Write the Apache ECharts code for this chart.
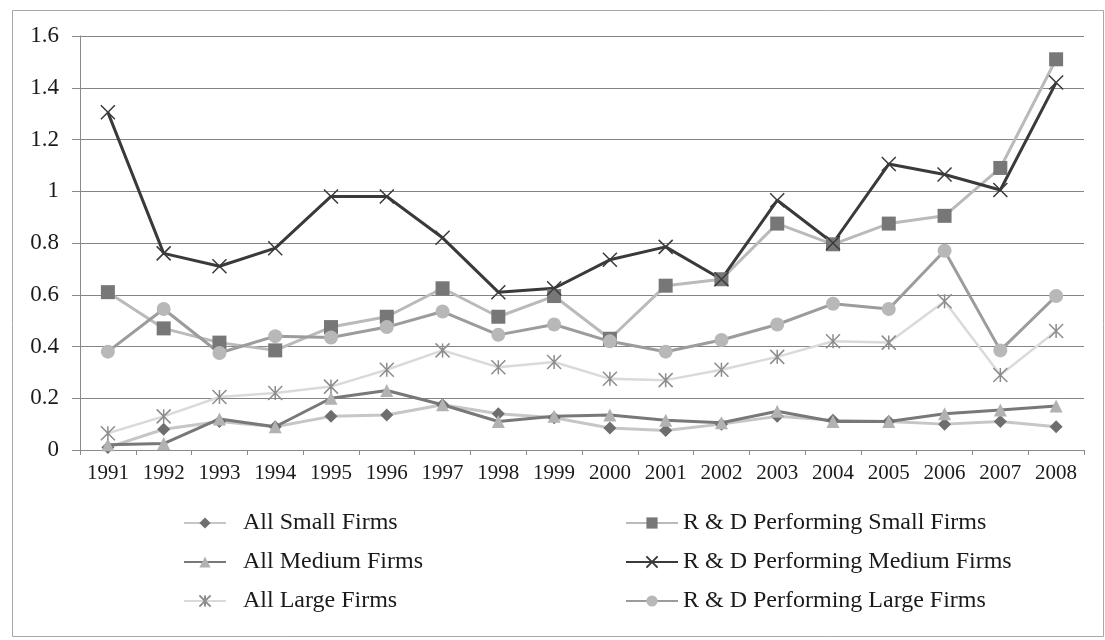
<!DOCTYPE html>
<html>
<head>
<meta charset="utf-8">
<script src="https://cdn.jsdelivr.net/npm/echarts@6/dist/echarts.min.js"></script>
<style>
html,body{margin:0;padding:0;background:#fff;}
#chart{width:1105px;height:640px;}
</style>
</head>
<body>
<div id="chart"></div>
<script>
var years = ['1991','1992','1993','1994','1995','1996','1997','1998','1999','2000','2001','2002','2003','2004','2005','2006','2007','2008'];
var allSmall  = [0.01, 0.08, 0.11, 0.09, 0.13, 0.135, 0.175, 0.14, 0.125, 0.085, 0.075, 0.10, 0.13, 0.115, 0.11, 0.10, 0.11, 0.09];
var allMedium = [0.02, 0.025, 0.12, 0.09, 0.20, 0.23, 0.175, 0.11, 0.13, 0.135, 0.115, 0.105, 0.15, 0.11, 0.11, 0.14, 0.155, 0.17];
var allLarge  = [0.065, 0.13, 0.205, 0.22, 0.245, 0.31, 0.385, 0.32, 0.34, 0.275, 0.27, 0.31, 0.36, 0.42, 0.415, 0.575, 0.29, 0.46];
var rdSmall   = [0.61, 0.47, 0.415, 0.385, 0.475, 0.515, 0.625, 0.515, 0.595, 0.43, 0.635, 0.66, 0.875, 0.795, 0.875, 0.905, 1.09, 1.51];
var rdMedium  = [1.305, 0.76, 0.71, 0.78, 0.98, 0.98, 0.82, 0.61, 0.625, 0.735, 0.785, 0.66, 0.965, 0.80, 1.105, 1.065, 1.005, 1.42];
var rdLarge   = [0.38, 0.545, 0.375, 0.44, 0.435, 0.475, 0.535, 0.445, 0.485, 0.42, 0.38, 0.425, 0.485, 0.565, 0.545, 0.77, 0.385, 0.595];
var names = ['All Small Firms','All Medium Firms','All Large Firms','R & D Performing Small Firms','R & D Performing Medium Firms','R & D Performing Large Firms'];

var serif = '"Liberation Serif","Times New Roman",serif';
var chart = echarts.init(document.getElementById('chart'));

function mk(name, data, lineColor, lineWidth, symbol, symbolSize, itemStyle) {
  return {
    name: name, type: 'line', data: data,
    symbol: symbol, symbolSize: symbolSize, showAllSymbol: true,
    lineStyle: {color: lineColor, width: lineWidth},
    itemStyle: itemStyle,
    emphasis: {disabled: true},
    animation: false
  };
}

var option = {
  backgroundColor: '#fff',
  animation: false,
  graphic: [{
    type: 'rect', left: 10, top: 8,
    shape: {width: 1091, height: 626},
    style: {fill: 'none', stroke: '#a8a8a8', lineWidth: 1},
    silent: true, z: -1
  }],
  grid: {left: 80, right: 21, top: 36, bottom: 190, containLabel: false},
  xAxis: {
    type: 'category', data: years, boundaryGap: true,
    axisLine: {show: true, lineStyle: {color: '#8a8a8a', width: 1}},
    axisTick: {show: true, length: 5, lineStyle: {color: '#8a8a8a'}},
    axisLabel: {fontFamily: serif, fontSize: 21, color: '#1a1a1a', margin: 13, interval: 0},
    splitLine: {show: false}
  },
  yAxis: {
    type: 'value', min: 0, max: 1.6, interval: 0.2,
    axisLine: {show: true, lineStyle: {color: '#8a8a8a', width: 1}},
    axisTick: {show: true, length: 8, lineStyle: {color: '#8a8a8a'}},
    axisLabel: {fontFamily: serif, fontSize: 23, color: '#1a1a1a', margin: 21},
    splitLine: {show: true, lineStyle: {color: '#858585', width: 1}}
  },
  legend: [
    {
      data: names.slice(0, 3), orient: 'vertical', left: 178, top: 506,
      itemWidth: 42, itemHeight: 14, itemGap: 15,
      textStyle: {fontFamily: serif, fontSize: 24, color: '#1a1a1a', padding: [0,0,0,12]},
      selectedMode: false
    },
    {
      data: names.slice(3), orient: 'vertical', left: 620, top: 506,
      itemWidth: 52, itemHeight: 14, itemGap: 15,
      textStyle: {fontFamily: serif, fontSize: 24, color: '#1a1a1a'},
      selectedMode: false
    }
  ],
  series: [
    mk(names[0], allSmall, '#c6c6c6', 3, 'diamond', 13, {color: '#6e6e6e'}),
    mk(names[1], allMedium, '#787878', 3, 'triangle', 13, {color: '#b2b2b2'}),
    mk(names[2], allLarge, '#dadada', 2.5, 'path://M0,0L10,10M10,0L0,10M5,0L5,10', 14, {color: 'transparent', borderColor: '#8c8c8c', borderWidth: 1.5}),
    mk(names[3], rdSmall, '#bababa', 3, 'rect', 14, {color: '#777777'}),
    mk(names[4], rdMedium, '#3a3a3a', 3, 'path://M0,0L10,10M10,0L0,10', 14, {color: 'transparent', borderColor: '#3a3a3a', borderWidth: 1.5}),
    mk(names[5], rdLarge, '#9c9c9c', 3, 'circle', 14, {color: '#b8b8b8'})
  ]
};
chart.setOption(option);
</script>
</body>
</html>
